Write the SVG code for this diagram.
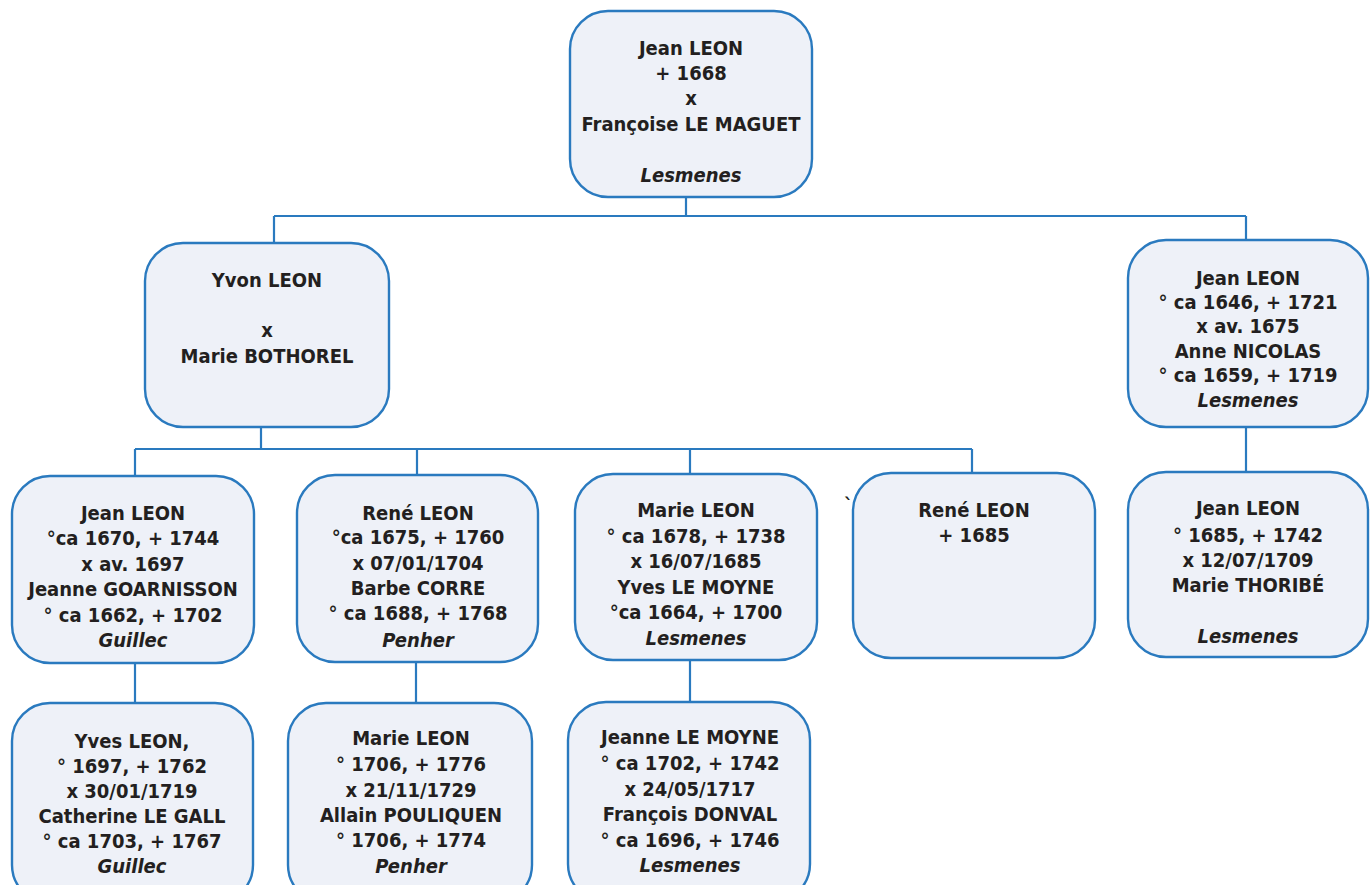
<svg xmlns="http://www.w3.org/2000/svg" width="1372" height="885" viewBox="0 0 1372 885">
  <style>
    .box { fill: #eef1f8; stroke: #2a7abf; stroke-width: 2.4; }
    .lnk { fill: none; stroke: #2a7abf; stroke-width: 2.2; }
    text { font-family: "DejaVu Sans Condensed", "Liberation Sans", sans-serif; font-stretch: condensed; font-weight: bold; font-size: 20px; fill: #231f20; text-anchor: middle; }
    .pl { font-style: italic; }
    .tick { font-size: 20px; text-anchor: start; }
  </style>
  <rect width="1372" height="885" fill="#ffffff"/>

  <g id="connectors">
    <path class="lnk" d="M686,197 V216 M274,216 H1246 M274,216 V243 M1246,216 V240"/>
    <path class="lnk" d="M261,427 V449 M135,449 H972 M135,449 V476 M417,449 V475 M690,449 V474 M972,449 V473"/>
    <path class="lnk" d="M1246,427 V472"/>
    <path class="lnk" d="M135,663 V703 M416,662 V703 M690,660 V702"/>
  </g>

  <g id="n-jean-1668">
    <rect class="box" x="570" y="11" width="242" height="186" rx="38"/>
    <text x="691" y="55">Jean LEON</text>
    <text x="691" y="80">+ 1668</text>
    <text x="691" y="105">x</text>
    <text x="691" y="131">Françoise LE MAGUET</text>
    <text class="pl" x="691" y="182">Lesmenes</text>
  </g>

  <g id="n-yvon">
    <rect class="box" x="145" y="243" width="244" height="184" rx="38"/>
    <text x="267" y="287">Yvon LEON</text>
    <text x="267" y="337">x</text>
    <text x="267" y="363">Marie BOTHOREL</text>
  </g>

  <g id="n-jean-1646">
    <rect class="box" x="1128" y="240" width="240" height="187" rx="38"/>
    <text x="1248" y="285">Jean LEON</text>
    <text x="1248" y="309">° ca 1646, + 1721</text>
    <text x="1248" y="333">x av. 1675</text>
    <text x="1248" y="358">Anne NICOLAS</text>
    <text x="1248" y="382">° ca 1659, + 1719</text>
    <text class="pl" x="1248" y="407">Lesmenes</text>
  </g>

  <g id="n-jean-1670">
    <rect class="box" x="12" y="476" width="242" height="187" rx="38"/>
    <text x="133" y="520">Jean LEON</text>
    <text x="133" y="545">°ca 1670, + 1744</text>
    <text x="133" y="571">x av. 1697</text>
    <text x="133" y="596">Jeanne GOARNISSON</text>
    <text x="133" y="622">° ca 1662, + 1702</text>
    <text class="pl" x="133" y="647">Guillec</text>
  </g>

  <g id="n-rene-1675">
    <rect class="box" x="297" y="475" width="241" height="187" rx="38"/>
    <text x="418" y="520">René LEON</text>
    <text x="418" y="544">°ca 1675, + 1760</text>
    <text x="418" y="570">x 07/01/1704</text>
    <text x="418" y="595">Barbe CORRE</text>
    <text x="418" y="620">° ca 1688, + 1768</text>
    <text class="pl" x="418" y="647">Penher</text>
  </g>

  <g id="n-marie-1678">
    <rect class="box" x="575" y="474" width="242" height="186" rx="38"/>
    <text x="696" y="517">Marie LEON</text>
    <text x="696" y="543">° ca 1678, + 1738</text>
    <text x="696" y="568">x 16/07/1685</text>
    <text x="696" y="594">Yves LE MOYNE</text>
    <text x="696" y="619">°ca 1664, + 1700</text>
    <text class="pl" x="696" y="645">Lesmenes</text>
  </g>

  <text class="tick" x="844" y="512">`</text>

  <g id="n-rene-1685">
    <rect class="box" x="853" y="473" width="242" height="185" rx="38"/>
    <text x="974" y="517">René LEON</text>
    <text x="974" y="542">+ 1685</text>
  </g>

  <g id="n-jean-1685">
    <rect class="box" x="1128" y="472" width="240" height="185" rx="38"/>
    <text x="1248" y="515">Jean LEON</text>
    <text x="1248" y="542">° 1685, + 1742</text>
    <text x="1248" y="567">x 12/07/1709</text>
    <text x="1248" y="592">Marie THORIBÉ</text>
    <text class="pl" x="1248" y="643">Lesmenes</text>
  </g>

  <g id="n-yves-1697">
    <rect class="box" x="12" y="703" width="241" height="200" rx="38"/>
    <text x="132" y="748">Yves LEON,</text>
    <text x="132" y="773">° 1697, + 1762</text>
    <text x="132" y="798">x 30/01/1719</text>
    <text x="132" y="823">Catherine LE GALL</text>
    <text x="132" y="848">° ca 1703, + 1767</text>
    <text class="pl" x="132" y="873">Guillec</text>
  </g>

  <g id="n-marie-1706">
    <rect class="box" x="288" y="703" width="244" height="200" rx="38"/>
    <text x="411" y="745">Marie LEON</text>
    <text x="411" y="771">° 1706, + 1776</text>
    <text x="411" y="797">x 21/11/1729</text>
    <text x="411" y="822">Allain POULIQUEN</text>
    <text x="411" y="847">° 1706, + 1774</text>
    <text class="pl" x="411" y="873">Penher</text>
  </g>

  <g id="n-jeanne-1702">
    <rect class="box" x="568" y="702" width="242" height="200" rx="38"/>
    <text x="690" y="744">Jeanne LE MOYNE</text>
    <text x="690" y="770">° ca 1702, + 1742</text>
    <text x="690" y="796">x 24/05/1717</text>
    <text x="690" y="821">François DONVAL</text>
    <text x="690" y="847">° ca 1696, + 1746</text>
    <text class="pl" x="690" y="872">Lesmenes</text>
  </g>
</svg>
